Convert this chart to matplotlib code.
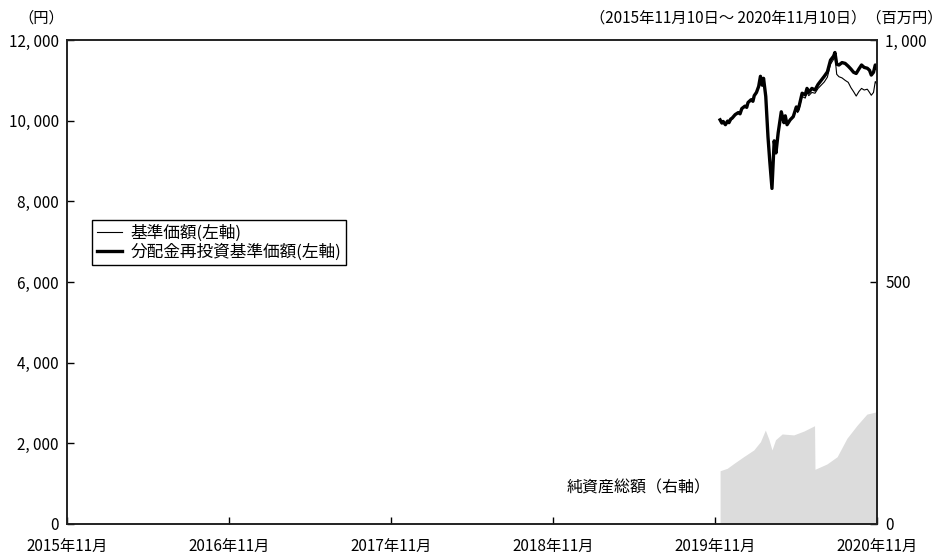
import matplotlib
matplotlib.use("Agg")
import matplotlib.pyplot as plt
import numpy as np
import pandas as pd

plt.rcParams['font.family'] = ['Noto Sans CJK JP', 'DejaVu Sans']

# 基準価額 / 分配金再投資基準価額 (左軸, 円)
nav_dates = ['2019-11-22', '2019-11-26', '2019-11-29', '2019-12-04', '2019-12-09', '2019-12-12',
             '2019-12-16', '2019-12-19', '2019-12-26', '2020-01-02', '2020-01-06', '2020-01-10',
             '2020-01-17', '2020-01-21', '2020-01-24', '2020-01-31', '2020-02-04', '2020-02-07',
             '2020-02-12', '2020-02-17', '2020-02-21', '2020-02-25', '2020-02-28', '2020-03-04',
             '2020-03-09', '2020-03-13', '2020-03-18', '2020-03-23', '2020-03-27', '2020-04-01',
             '2020-04-08', '2020-04-14', '2020-04-17', '2020-04-21', '2020-04-28', '2020-05-05',
             '2020-05-12', '2020-05-15', '2020-05-18', '2020-05-25', '2020-06-01', '2020-06-05',
             '2020-06-09', '2020-06-16', '2020-06-23', '2020-06-30', '2020-07-07', '2020-07-14',
             '2020-07-21', '2020-07-28', '2020-08-04', '2020-08-07', '2020-08-11', '2020-08-16',
             '2020-08-23', '2020-08-30', '2020-09-06', '2020-09-12', '2020-09-18', '2020-09-24',
             '2020-09-30', '2020-10-06', '2020-10-12', '2020-10-19', '2020-10-24', '2020-10-28',
             '2020-11-02', '2020-11-06', '2020-11-10']
nav_reinvest = [10020, 9940, 9980, 9900, 9990, 9950,
                10040, 10060, 10150, 10200, 10170, 10300,
                10360, 10330, 10450, 10520, 10480, 10620,
                10700, 10850, 11100, 10880, 11050, 10600,
                9600, 9000, 8320, 9500, 9200, 9700,
                10220, 9950, 10120, 9900, 10020, 10100,
                10340, 10250, 10350, 10680, 10640, 10800,
                10700, 10800, 10760, 10900, 11000, 11100,
                11210, 11500, 11600, 11690, 11400, 11380,
                11440, 11420, 11350, 11280, 11200, 11170,
                11280, 11380, 11320, 11300, 11250, 11130,
                11200, 11380, 11300]
nav = [10020, 9940, 9980, 9900, 9990, 9950,
       10040, 10060, 10150, 10200, 10170, 10300,
       10360, 10330, 10450, 10520, 10480, 10620,
       10700, 10850, 11100, 10880, 11050, 10600,
       9600, 9000, 8320, 9500, 9200, 9700,
       10220, 9950, 10120, 9900, 10020, 10100,
       10300, 10200, 10290, 10600, 10560, 10700,
       10620, 10700, 10680, 10800, 10880, 10960,
       11080, 11400, 11520, 11600, 11150, 11090,
       11060, 11000, 10950, 10820, 10720, 10610,
       10720, 10800, 10760, 10780, 10700, 10630,
       10700, 10970, 10900]

# 純資産総額 (右軸, 百万円)
aum_dates = ['2019-11-22', '2019-12-08', '2019-12-23', '2020-01-14', '2020-02-06',
             '2020-02-21', '2020-03-03', '2020-03-11', '2020-03-18', '2020-03-26',
             '2020-04-10', '2020-05-06', '2020-05-29', '2020-06-22', '2020-06-23',
             '2020-07-20', '2020-08-12', '2020-09-03', '2020-09-26', '2020-10-18',
             '2020-11-10']
aum = [110, 115, 125, 139, 153,
       170, 194, 175, 153, 174,
       186, 184, 192, 203, 113,
       124, 139, 177, 204, 227,
       232]

tick_dates = ['2015-11-10', '2016-11-10', '2017-11-10', '2018-11-10', '2019-11-10', '2020-11-10']
tick_labels = ['2015年11月', '2016年11月', '2017年11月', '2018年11月', '2019年11月', '2020年11月']

nav_dates = pd.to_datetime(nav_dates)
aum_dates = pd.to_datetime(aum_dates)
tick_dates = pd.to_datetime(tick_dates)

fig = plt.figure(figsize=(9.45, 5.54), dpi=100)
ax = fig.add_axes([0.0709, 0.0542, 0.8572, 0.8736])
ax2 = ax.twinx()

# area on the right axis, lines drawn above it
ax2.fill_between(aum_dates, 0, aum, color='#dcdcdc', linewidth=0)
ax.set_zorder(ax2.get_zorder() + 1)
ax.patch.set_visible(False)

ax.plot(nav_dates, nav, color='black', linewidth=0.8, label='基準価額(左軸)')
ax.plot(nav_dates, nav_reinvest, color='black', linewidth=2.4, label='分配金再投資基準価額(左軸)')

ax.set_xlim(tick_dates[0], tick_dates[-1])
ax.set_ylim(0, 12000)
ax2.set_ylim(0, 1000)

ax.set_xticks(tick_dates)
ax.set_xticklabels(tick_labels, fontsize=11)
ax.set_yticks(np.arange(0, 12001, 2000))
ax.set_yticklabels([f"{v:,}".replace(",", ", ") for v in range(0, 12001, 2000)], fontsize=11)
ax2.set_yticks([0, 500, 1000])
ax2.set_yticklabels(['0', '500', '1, 000'], fontsize=11)

ax.tick_params(axis='both', direction='in', length=5, width=1, pad=6)
ax2.tick_params(axis='y', direction='in', length=5, width=1, pad=6)
ax.tick_params(axis='x', pad=10)

for a in (ax, ax2):
    for s in a.spines.values():
        s.set_linewidth(1.2)
        s.set_color('#222222')

leg = ax.legend(loc='upper left', bbox_to_anchor=(0.031, 0.628), fontsize=12,
                frameon=True, fancybox=False, edgecolor='black', framealpha=1,
                handlelength=1.5, handletextpad=0.5, borderpad=0.3, labelspacing=0.05,
                borderaxespad=0)
leg.get_frame().set_linewidth(1.0)

ax.text(0.795, 0.075, '純資産総額（右軸）', transform=ax.transAxes, ha='right', va='center', fontsize=11.5)
fig.text(0.019, 0.968, '（円）', ha='left', va='center', fontsize=11)
fig.text(0.997, 0.968, '（2015年11月10日～ 2020年11月10日）（百万円）', ha='right', va='center', fontsize=11)

fig.savefig('out.png', dpi=100)
